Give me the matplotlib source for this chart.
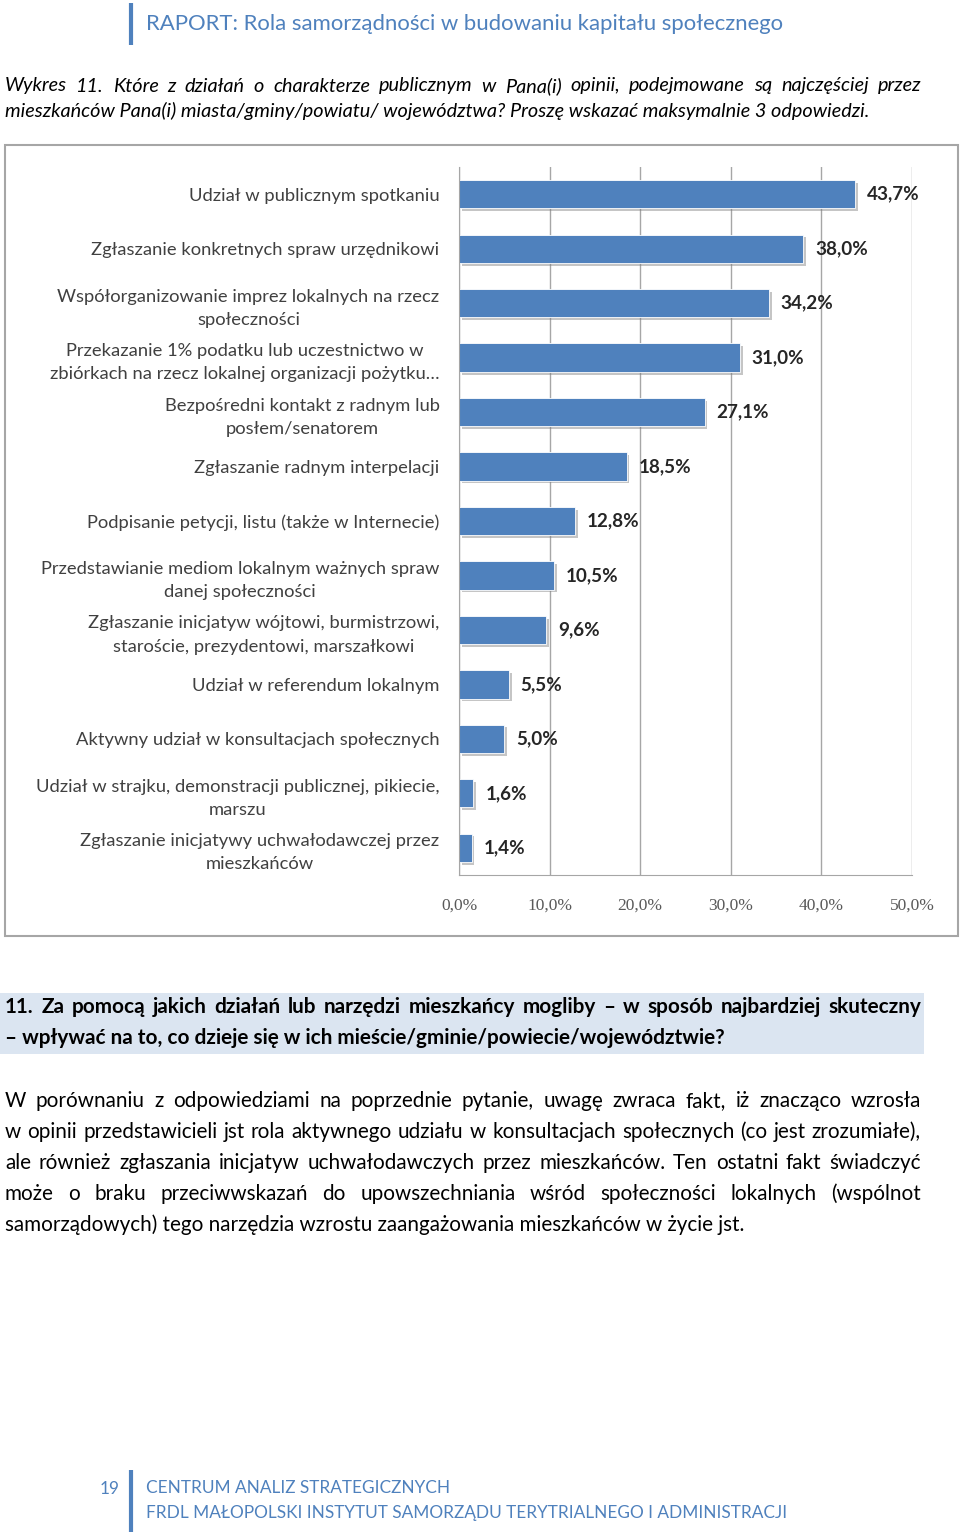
import numpy as np
import matplotlib.pyplot as plt
import matplotlib.patheffects as pe
from matplotlib.patches import Rectangle

# data (Wykres 11)
categories = [
    'Udział w publicznym spotkaniu',
    'Zgłaszanie konkretnych spraw urzędnikowi',
    'Współorganizowanie imprez lokalnych na rzecz\nspołeczności',
    'Przekazanie 1% podatku lub uczestnictwo w\nzbiórkach na rzecz lokalnej organizacji pożytku…',
    'Bezpośredni kontakt z radnym lub\nposłem/senatorem',
    'Zgłaszanie radnym interpelacji',
    'Podpisanie petycji, listu (także w Internecie)',
    'Przedstawianie mediom lokalnym ważnych spraw\ndanej społeczności',
    'Zgłaszanie inicjatyw wójtowi, burmistrzowi,\nstaroście, prezydentowi, marszałkowi',
    'Udział w referendum lokalnym',
    'Aktywny udział w konsultacjach społecznych',
    'Udział w strajku, demonstracji publicznej, pikiecie,\nmarszu',
    'Zgłaszanie inicjatywy uchwałodawczej przez\nmieszkańców',
]
values = [43.7, 38.0, 34.2, 31.0, 27.1, 18.5, 12.8, 10.5, 9.6, 5.5, 5.0, 1.6, 1.4]
xticks = [0, 10, 20, 30, 40, 50]
xticklabels = ['0,0%', '10,0%', '20,0%', '30,0%', '40,0%', '50,0%']

header = 'RAPORT: Rola samorządności w budowaniu kapitału społecznego'
caption = ['Wykres 11. Które z działań o charakterze publicznym w Pana(i) opinii, podejmowane są najczęściej przez',
           'mieszkańców Pana(i) miasta/gminy/powiatu/ województwa? Proszę wskazać maksymalnie 3 odpowiedzi.']
question = ['11. Za pomocą jakich działań lub narzędzi mieszkańcy mogliby – w sposób najbardziej skuteczny',
            '– wpływać na to, co dzieje się w ich mieście/gminie/powiecie/województwie?']
paragraph = ['W porównaniu z odpowiedziami na poprzednie pytanie, uwagę zwraca fakt, iż znacząco wzrosła',
             'w opinii przedstawicieli jst rola aktywnego udziału w konsultacjach społecznych (co jest zrozumiałe),',
             'ale również zgłaszania inicjatyw uchwałodawczych przez mieszkańców. Ten ostatni fakt świadczyć',
             'może o braku przeciwwskazań do upowszechniania wśród społeczności lokalnych (wspólnot',
             'samorządowych) tego narzędzia wzrostu zaangażowania mieszkańców w życie jst.']
footer = ['CENTRUM ANALIZ STRATEGICZNYCH',
          'FRDL MAŁOPOLSKI INSTYTUT SAMORZĄDU TERYTRIALNEGO I ADMINISTRACJI']
page_no = '19'

blue = '#4F81BD'
plt.rcParams['font.family'] = ['Lato', 'DejaVu Sans']

fig = plt.figure(figsize=(9.6, 15.32), dpi=100)
page = fig.add_axes([0, 0, 1, 1])
page.set_xlim(0, 960)
page.set_ylim(1532, 0)
page.axis('off')
r = fig.canvas.get_renderer()


def fit(s, width, **kw):
    # font size giving the text the wanted pixel width
    t = page.text(0, 0, s, fontsize=10, **kw)
    w = t.get_window_extent(r).width
    t.remove()
    return 10 * width / w


def line(s, x0, y, size, x1=None, **kw):
    if x1 is None:
        page.text(x0, y, s, fontsize=size, va='center', ha='left', **kw)
        return
    # justified line
    words = s.split(' ')
    ts = [page.text(0, y, w, fontsize=size, va='center', ha='left', **kw) for w in words]
    ws = [t.get_window_extent(r).width for t in ts]
    gap = (x1 - x0 - sum(ws)) / (len(words) - 1)
    x = x0
    for t, w in zip(ts, ws):
        t.set_x(x)
        x += w + gap


# header
page.plot([131, 131], [3, 45], color=blue, lw=3, solid_capstyle='butt')
line(header, 146, 24, fit(header, 639), color=blue)

# caption
s = fit(caption[1], 863, style='italic')
line(caption[0], 5, 86, s, 921, style='italic', color='black')
line(caption[1], 5, 111, s, style='italic', color='black')

# chart frame
page.add_patch(Rectangle((5, 145), 953, 791, fill=False, ec='#A6A6A6', lw=1.5))

# question box
page.add_patch(Rectangle((0, 993), 924, 61, color='#DBE5F1', lw=0))
s = fit(question[1], 720, weight='bold')
line(question[0], 5, 1007, s, 921, weight='bold', color='black')
line(question[1], 5, 1038, s, weight='bold', color='black')

# paragraph
s = fit(paragraph[-1], 737)
for i, txt in enumerate(paragraph):
    y = 1101 + i * 31
    if i < len(paragraph) - 1:
        line(txt, 5, y, s, 921, color='black')
    else:
        line(txt, 5, y, s, color='black')

# footer
page.plot([131, 131], [1470, 1532], color=blue, lw=3, solid_capstyle='butt')
s = fit(footer[1], 635)
line(page_no, 100, 1489, s, color=blue)
line(footer[0], 146, 1488, s, color=blue)
line(footer[1], 146, 1513, s, color=blue)

# bar chart
ax = fig.add_axes([459 / 960, 1 - 875 / 1532, 453 / 960, 708 / 1532])
y = np.arange(len(values))
ax.barh(y, values, height=0.52, color=blue, edgecolor='white', linewidth=0.6, zorder=3,
        path_effects=[pe.SimplePatchShadow(offset=(2, -2), shadow_rgbFace='#808080', alpha=0.45), pe.Normal()])
for i, v in enumerate(values):
    ax.annotate(f'{v:.1f}%'.replace('.', ','), (v, i), xytext=(8.5, 0), textcoords='offset points',
                va='center', ha='left', fontsize=13.6, fontweight='bold', color='#262626')

ax.set_xlim(0, 50)
ax.set_ylim(len(values) - 0.5, -0.5)
ax.set_xticks(xticks)
ax.set_xticklabels(xticklabels, family='Liberation Serif', fontsize=12.5, color='#595959')
ax.set_yticks(y)
ax.set_yticklabels(categories, fontsize=13.2, color='#404040',
                   multialignment='center', linespacing=1.55)
ax.tick_params(axis='y', length=0, pad=14)
ax.tick_params(axis='x', length=0, pad=16)
ax.grid(axis='x', color='#A6A6A6', lw=1, zorder=0)
for sp in ['top', 'right']:
    ax.spines[sp].set_visible(False)
for sp in ['left', 'bottom']:
    ax.spines[sp].set_color('#A6A6A6')
    ax.spines[sp].set_zorder(4)

plt.savefig('out.png', dpi=100)
